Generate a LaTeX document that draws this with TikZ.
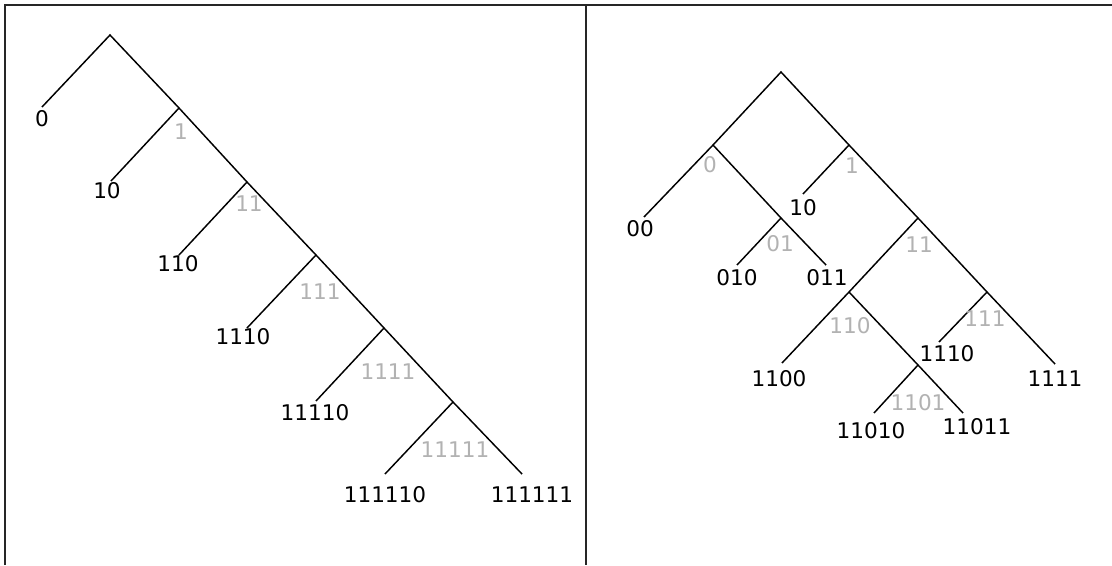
\documentclass[tikz,border=0pt]{standalone}
\usepackage{fontspec}
\setmainfont{DejaVu Sans}
\begin{document}
\begin{tikzpicture}[x=0.75pt,y=-0.75pt,
  frame/.style={line width=1.5pt,black!85},
  edge/.style={line width=1.1pt,black},
  leaf/.style={inner sep=0pt,font=\fontsize{16.2}{19}\selectfont,text=black},
  pre/.style={inner sep=0pt,font=\fontsize{16.2}{19}\selectfont,text=black!30}]
\useasboundingbox (0,0) rectangle (1112,565);

% frame of the two panels
\coordinate (fTL) at (5,5);
\coordinate (fTR) at (1112,5);
\coordinate (fBL) at (5,565);
\coordinate (fMT) at (586,5);
\coordinate (fMB) at (586,565);
\draw[frame] (fBL) -- (fTL) -- (fTR);
\draw[frame] (fMT) -- (fMB);

% ---------- left panel: unbalanced trie ----------
\coordinate (L)      at (110,35);
\coordinate (L1)     at (179,108);
\coordinate (L11)    at (247,182);
\coordinate (L111)   at (316,255);
\coordinate (L1111)  at (384,328);
\coordinate (L11111) at (453,402);
\coordinate (L0)      at (42,107);
\coordinate (L10)     at (111,181);
\coordinate (L110)    at (179,255);
\coordinate (L1110)   at (247,328);
\coordinate (L11110)  at (316,401);
\coordinate (L111110) at (385,474);
\coordinate (L111111) at (522,474);

\draw[edge] (L0) -- (L) -- (L1) -- (L11) -- (L111) -- (L1111) -- (L11111) -- (L111111);
\draw[edge] (L1) -- (L10);
\draw[edge] (L11) -- (L110);
\draw[edge] (L111) -- (L1110);
\draw[edge] (L1111) -- (L11110);
\draw[edge] (L11111) -- (L111110);

\node[leaf] (tL0)      at (42,119)  {0};
\node[leaf] (tL10)     at (107,191) {10};
\node[leaf] (tL110)    at (178,264) {110};
\node[leaf] (tL1110)   at (243,337) {1110};
\node[leaf] (tL11110)  at (315,413) {11110};
\node[leaf] (tL111110) at (385,495) {111110};
\node[leaf] (tL111111) at (532,495) {111111};

\node[pre] (pL1)     at (181,132) {1};
\node[pre] (pL11)    at (249,204) {11};
\node[pre] (pL111)   at (320,292) {111};
\node[pre] (pL1111)  at (388,372) {1111};
\node[pre] (pL11111) at (455,450) {11111};

% ---------- right panel: balanced trie ----------
\coordinate (R)     at (781,72);
\coordinate (R0)    at (713,145);
\coordinate (R1)    at (849,145);
\coordinate (R00)   at (644,217);
\coordinate (R01)   at (781,218);
\coordinate (R10)   at (803,194);
\coordinate (R010)  at (737,265);
\coordinate (R011)  at (826,265);
\coordinate (R11)   at (918,218);
\coordinate (R110)  at (849,292);
\coordinate (R111)  at (987,292);
\coordinate (R1100) at (782,363);
\coordinate (R1101) at (918,365);
\coordinate (R1110) at (939,342);
\coordinate (R1111) at (1055,364);
\coordinate (R11010) at (874,413);
\coordinate (R11011) at (963,413);

\draw[edge] (R00) -- (R0) -- (R) -- (R1) -- (R11) -- (R111) -- (R1111);
\draw[edge] (R0) -- (R01) -- (R011);
\draw[edge] (R01) -- (R010);
\draw[edge] (R1) -- (R10);
\draw[edge] (R11) -- (R110) -- (R1100);
\draw[edge] (R110) -- (R1101) -- (R11011);
\draw[edge] (R1101) -- (R11010);
\draw[edge] (R111) -- (R1110);

\node[leaf] (tR00)    at (640,229) {00};
\node[leaf] (tR10)    at (803,208) {10};
\node[leaf] (tR010)   at (737,278) {010};
\node[leaf] (tR011)   at (827,278) {011};
\node[leaf] (tR1100)  at (779,379) {1100};
\node[leaf] (tR1110)  at (947,354) {1110};
\node[leaf] (tR1111)  at (1055,379) {1111};
\node[leaf] (tR11010) at (871,431) {11010};
\node[leaf] (tR11011) at (977,427) {11011};

\node[pre] (pR0)    at (710,165) {0};
\node[pre] (pR1)    at (852,166) {1};
\node[pre] (pR01)   at (780,244) {01};
\node[pre] (pR11)   at (919,245) {11};
\node[pre] (pR110)  at (850,326) {110};
\node[pre] (pR111)  at (985,319) {111};
\node[pre] (pR1101) at (918,403) {1101};
\end{tikzpicture}
\end{document}
